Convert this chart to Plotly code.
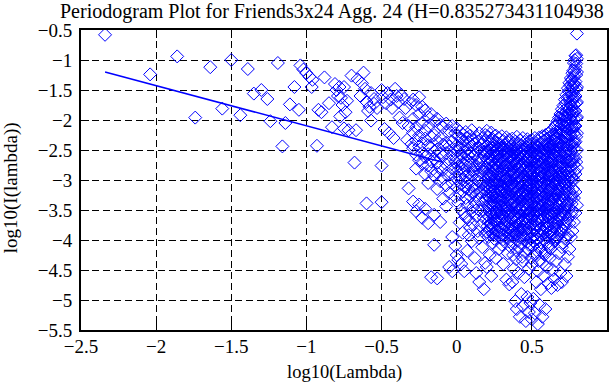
import plotly.graph_objects as go

# ---- data ----
title_text = "Periodogram Plot for Friends3x24 Agg. 24 (H=0.835273431104938"
x_title = "log10(Lambda)"
y_title = "log10(I(lambda))"

x_ticks = [-2.5, -2, -1.5, -1, -0.5, 0, 0.5, 1]
y_ticks = [-0.5, -1, -1.5, -2, -2.5, -3, -3.5, -4, -4.5, -5, -5.5]

# low-frequency (sparse) periodogram points
sparse_x = [-2.34, -2.04, -1.86, -1.74, -1.64, -1.56, -1.50, -1.44, -1.39, -1.35,
            -1.30, -1.26, -1.24, -1.19, -1.16, -1.14, -1.11, -1.08, -1.05, -1.04,
            -1.02, -1.00, -0.98, -0.96, -0.965, -0.93, -0.92, -0.90, -0.88, -0.85,
            -0.83, -0.81, -0.80, -0.79, -0.78, -0.775, -0.77, -0.76, -0.75, -0.75,
            -0.74, -0.73, -0.72, -0.70, -0.68, -0.67, -0.66, -0.64, -0.63, -0.62,
            -0.61, -0.60, -0.60, -0.59, -0.58, -0.57, -0.57, -0.55, -0.55, -0.53,
            -0.50, -0.50, -0.50, -0.49, -0.48, -0.47, -0.46, -0.45, -0.44, -0.43,
            -0.42, -0.41, -0.40, -0.39, -0.38, -0.37, -0.36, -0.35, -0.34, -0.33,
            -0.32, -0.32, -0.31, -0.30]
sparse_y = [-0.58, -1.24, -0.94, -1.96, -1.12, -1.81, -1.00, -1.92, -1.15, -1.56,
            -1.50, -1.65, -2.02, -1.05, -2.44, -2.05, -1.74, -1.45, -1.83, -1.09,
            -1.16, -1.22, -1.28, -1.33, -1.45, -2.43, -1.83, -1.87, -1.29, -1.72,
            -2.12, -1.40, -1.50, -1.60, -1.45, -1.94, -1.63, -1.75, -1.45, -2.14,
            -1.87, -1.68, -2.17, -1.26, -2.71, -2.17, -1.32, -1.60, -1.39, -1.21,
            -1.48, -1.70, -3.39, -1.85, -1.78, -2.01, -1.55, -1.65, -1.73, -1.80,
            -3.37, -2.76, -1.50, -1.62, -2.15, -1.72, -1.55, -2.22, -1.66, -1.80,
            -2.30, -1.48, -1.60, -1.70, -1.96, -1.58, -2.05, -1.65, -1.80, -2.33,
            -2.10, -3.14, -1.72, -2.40]

# dense high-frequency points, grouped by column of log10(lambda)
col_x = [-0.29, -0.27, -0.25, -0.23, -0.21, -0.19, -0.17, -0.15, -0.13, -0.11,
         -0.09, -0.07, -0.05, -0.03, -0.01,
         0.00, 0.01, 0.02, 0.03, 0.04, 0.05, 0.06, 0.07, 0.08, 0.09,
         0.10, 0.11, 0.12, 0.13, 0.14, 0.15, 0.16, 0.17, 0.18, 0.19,
         0.20, 0.21, 0.22, 0.23, 0.24, 0.25, 0.26, 0.27, 0.28, 0.29,
         0.30, 0.31, 0.32, 0.33, 0.34, 0.35, 0.36, 0.37, 0.38, 0.39,
         0.40, 0.41, 0.42, 0.43, 0.44, 0.45, 0.46, 0.47, 0.48, 0.49,
         0.50, 0.51, 0.52, 0.53, 0.54, 0.55, 0.56, 0.57, 0.58, 0.59,
         0.60, 0.61, 0.62, 0.63, 0.64, 0.65, 0.66, 0.67, 0.68, 0.69,
         0.70, 0.71, 0.72, 0.73, 0.74, 0.75, 0.76, 0.77, 0.78, 0.79, 0.80]
col_y = [
    [-1.66, -1.98, -2.21, -2.47, -3.36],
    [-1.75, -2.12, -2.34, -2.58, -2.81, -3.52],
    [-1.62, -1.90, -2.26, -2.44, -2.67, -3.41],
    [-1.78, -2.05, -2.39, -2.55, -2.73, -3.63],
    [-1.84, -2.18, -2.31, -2.62, -2.90, -3.48],
    [-1.95, -2.10, -2.42, -2.57, -2.76, -3.05, -3.72],
    [-1.90, -2.28, -2.46, -2.69, -2.85, -4.62],
    [-2.02, -2.25, -2.52, -2.64, -2.93, -3.58, -4.08],
    [-1.98, -2.35, -2.49, -2.71, -2.88, -3.15, -4.64],
    [-2.08, -2.30, -2.56, -2.78, -3.02, -3.70],
    [-2.12, -2.41, -2.60, -2.83, -2.97, -3.31],
    [-2.06, -2.38, -2.55, -2.74, -3.09, -3.44],
    [-2.18, -2.44, -2.66, -2.90, -3.22, -4.45],
    [-2.10, -2.36, -2.58, -2.81, -3.05, -3.95, -4.52],
    [-2.22, -2.49, -2.70, -2.95, -3.28, -4.10],
    [-2.14, -2.42, -2.63, -2.86, -3.12, -4.25],
    [-2.27, -2.51, -2.77, -3.01, -3.38, -4.33],
    [-2.19, -2.46, -2.69, -2.92, -3.24, -3.71],
    [-2.31, -2.58, -2.80, -3.07, -3.49, -4.40],
    [-2.24, -2.45, -2.72, -2.98, -3.19, -3.88],
    [-2.35, -2.62, -2.84, -3.11, -3.56, -4.52],
    [-2.20, -2.53, -2.75, -2.95, -3.30, -3.62],
    [-2.29, -2.48, -2.68, -3.04, -3.42, -4.18],
    [-2.38, -2.60, -2.89, -3.15, -3.66, -3.92],
    [-2.26, -2.55, -2.78, -3.00, -3.27, -3.80],
    [-2.17, -2.43, -2.71, -2.93, -3.21, -3.53, -4.02],
    [-2.33, -2.61, -2.87, -3.09, -3.45, -3.74],
    [-2.40, -2.57, -2.82, -3.18, -3.37, -4.30],
    [-2.28, -2.50, -2.76, -2.99, -3.25, -3.60, -4.55],
    [-2.36, -2.64, -2.91, -3.13, -3.48, -3.85],
    [-2.22, -2.47, -2.73, -3.03, -3.33, -3.97, -4.70],
    [-2.41, -2.66, -2.88, -3.20, -3.52, -3.76],
    [-2.30, -2.54, -2.80, -3.06, -3.40, -4.12],
    [-2.37, -2.59, -2.85, -3.14, -3.63, -4.82],
    [-2.25, -2.52, -2.79, -3.10, -3.35, -3.90, -4.38],
    [-2.18, -2.44, -2.65, -2.88, -3.10, -3.32, -3.58, -3.86, -4.45],
    [-2.28, -2.52, -2.73, -2.97, -3.19, -3.44, -3.70, -3.95],
    [-2.35, -2.48, -2.70, -2.92, -3.15, -3.39, -3.62, -3.81, -4.25],
    [-2.21, -2.57, -2.79, -3.03, -3.27, -3.50, -3.74, -4.60],
    [-2.32, -2.46, -2.68, -2.90, -3.12, -3.36, -3.57, -3.89, -4.05],
    [-2.40, -2.61, -2.84, -3.06, -3.29, -3.53, -3.78, -3.98],
    [-2.26, -2.50, -2.75, -2.99, -3.22, -3.46, -3.66, -3.92, -4.30],
    [-2.38, -2.55, -2.77, -3.01, -3.24, -3.41, -3.68, -3.84],
    [-2.30, -2.47, -2.71, -2.94, -3.17, -3.35, -3.60, -3.87, -4.15],
    [-2.43, -2.63, -2.86, -3.08, -3.31, -3.55, -3.79, -3.96],
    [-2.27, -2.49, -2.72, -2.96, -3.20, -3.43, -3.64, -3.91, -4.08],
    [-2.35, -2.58, -2.81, -3.04, -3.26, -3.49, -3.73, -3.99, -4.40],
    [-2.42, -2.60, -2.83, -3.07, -3.30, -3.52, -3.76, -3.93],
    [-2.29, -2.51, -2.74, -2.98, -3.21, -3.45, -3.69, -3.88, -4.66],
    [-2.37, -2.56, -2.78, -3.02, -3.25, -3.48, -3.71, -3.97, -4.22],
    [-2.33, -2.62, -2.85, -3.09, -3.34, -3.57, -3.80, -4.02, -4.74],
    [-2.45, -2.59, -2.76, -3.00, -3.23, -3.40, -3.65, -3.89, -4.12],
    [-2.31, -2.53, -2.80, -3.05, -3.28, -3.54, -3.77, -3.94, -4.70],
    [-2.40, -2.64, -2.87, -3.11, -3.36, -3.59, -3.82, -4.05, -4.48],
    [-2.36, -2.55, -2.75, -2.99, -3.22, -3.46, -3.70, -3.92, -5.02],
    [-2.28, -2.50, -2.73, -2.97, -3.19, -3.42, -3.66, -3.90, -4.18, -5.15],
    [-2.39, -2.61, -2.84, -3.07, -3.31, -3.55, -3.79, -4.01, -4.55],
    [-2.34, -2.57, -2.79, -3.03, -3.27, -3.50, -3.74, -3.96, -5.28],
    [-2.42, -2.63, -2.86, -3.10, -3.33, -3.58, -3.81, -4.06, -4.90],
    [-2.30, -2.52, -2.76, -3.00, -3.24, -3.47, -3.69, -3.93, -4.35, -5.10],
    [-2.37, -2.60, -2.82, -3.06, -3.29, -3.53, -3.78, -3.98, -4.62],
    [-2.44, -2.58, -2.80, -3.04, -3.26, -3.49, -3.72, -3.95, -5.35],
    [-2.32, -2.54, -2.77, -3.01, -3.25, -3.48, -3.71, -4.03, -4.95],
    [-2.36, -2.62, -2.85, -3.08, -3.32, -3.56, -3.80, -4.08, -4.48, -5.20],
    [-2.41, -2.59, -2.83, -3.05, -3.28, -3.51, -3.75, -3.97, -5.05],
    [-2.33, -2.55, -2.78, -3.02, -3.26, -3.50, -3.73, -3.96, -4.40, -5.32],
    [-2.39, -2.61, -2.84, -3.08, -3.31, -3.55, -3.79, -4.02, -4.98],
    [-2.30, -2.52, -2.75, -2.99, -3.22, -3.46, -3.69, -3.92, -4.25, -5.22],
    [-2.43, -2.58, -2.81, -3.05, -3.29, -3.52, -3.76, -3.99, -4.70],
    [-2.35, -2.56, -2.79, -3.03, -3.27, -3.51, -3.74, -3.98, -4.52, -5.40],
    [-2.29, -2.50, -2.73, -2.97, -3.21, -3.44, -3.68, -3.91, -4.15, -5.08],
    [-2.38, -2.62, -2.86, -3.09, -3.33, -3.57, -3.81, -4.04, -4.82],
    [-2.27, -2.49, -2.72, -2.96, -3.19, -3.43, -3.66, -3.90, -4.38, -5.28],
    [-2.34, -2.57, -2.80, -3.04, -3.28, -3.52, -3.75, -3.99, -4.60],
    [-2.25, -2.47, -2.70, -2.94, -3.18, -3.41, -3.65, -3.88, -4.20, -5.15],
    [-2.31, -2.54, -2.77, -3.01, -3.24, -3.48, -3.72, -3.96, -4.45],
    [-2.22, -2.45, -2.69, -2.92, -3.16, -3.40, -3.63, -3.87, -4.10, -4.72],
    [-2.28, -2.51, -2.74, -2.98, -3.22, -3.45, -3.69, -3.93, -4.30],
    [-2.18, -2.42, -2.66, -2.90, -3.13, -3.37, -3.61, -3.85, -4.08, -4.80],
    [-2.24, -2.48, -2.71, -2.95, -3.19, -3.43, -3.66, -3.90, -4.50],
    [-2.12, -2.36, -2.60, -2.84, -3.08, -3.32, -3.56, -3.80, -4.02, -4.65],
    [-2.08, -2.31, -2.55, -2.79, -3.03, -3.27, -3.51, -3.75, -3.98, -4.35],
    [-2.02, -2.27, -2.51, -2.76, -3.00, -3.24, -3.48, -3.72, -3.95, -4.75],
    [-1.96, -2.21, -2.46, -2.70, -2.94, -3.19, -3.43, -3.67, -3.91, -4.22],
    [-1.90, -2.15, -2.40, -2.65, -2.89, -3.14, -3.38, -3.62, -3.87, -4.55],
    [-1.82, -2.08, -2.34, -2.59, -2.84, -3.09, -3.34, -3.58, -3.83, -4.12, -4.70],
    [-1.76, -2.02, -2.28, -2.53, -2.78, -3.03, -3.28, -3.53, -3.78, -4.05],
    [-1.66, -1.94, -2.21, -2.47, -2.73, -2.98, -3.23, -3.48, -3.73, -3.98, -4.40],
    [-1.58, -1.87, -2.14, -2.41, -2.67, -2.93, -3.18, -3.43, -3.68, -3.94, -4.60],
    [-1.47, -1.78, -2.07, -2.35, -2.62, -2.88, -3.14, -3.39, -3.64, -3.90, -4.28],
    [-1.38, -1.62, -1.90, -2.15, -2.42, -2.68, -2.94, -3.20, -3.46, -3.72, -4.15],
    [-1.30, -1.52, -1.76, -2.00, -2.26, -2.51, -2.77, -3.03, -3.30, -3.58, -3.95],
    [-1.22, -1.45, -1.68, -1.92, -2.17, -2.43, -2.69, -2.96, -3.24, -3.52, -3.85],
    [-1.05, -1.28, -1.50, -1.74, -1.98, -2.22, -2.48, -2.74, -3.00, -3.30, -3.70],
    [-0.93, -1.12, -1.36, -1.60, -1.85, -2.10, -2.36, -2.62, -2.90, -3.20, -3.55],
    [-0.56, -0.98, -1.20, -1.45, -1.70, -1.95, -2.22, -2.50, -2.80, -3.42],
]

# in-between columns of the dense core and the right-hand spike
col2_x = [0.205, 0.215, 0.225, 0.235, 0.245, 0.255, 0.265, 0.275, 0.285, 0.295,
          0.305, 0.315, 0.325, 0.335, 0.345, 0.355, 0.365, 0.375, 0.385, 0.395,
          0.405, 0.415, 0.425, 0.435, 0.445, 0.455, 0.465, 0.475, 0.485, 0.495,
          0.505, 0.515, 0.525, 0.535, 0.545, 0.555, 0.565, 0.575, 0.585, 0.595,
          0.605, 0.615, 0.625, 0.635, 0.645, 0.655, 0.665, 0.675, 0.685, 0.695,
          0.705, 0.715, 0.725, 0.735, 0.745, 0.755, 0.765, 0.775, 0.785, 0.795]
col2_y = [
    [-2.56, -2.81, -3.05, -3.27, -3.49, -3.77],
    [-2.41, -2.63, -2.90, -3.13, -3.61, -3.83],
    [-2.58, -2.86, -3.08, -3.30, -3.55, -3.72],
    [-2.47, -2.69, -2.95, -3.18, -3.41, -3.80],
    [-2.53, -2.78, -3.01, -3.25, -3.63, -3.92],
    [-2.44, -2.70, -2.93, -3.15, -3.38, -3.69],
    [-2.60, -2.84, -3.06, -3.31, -3.55, -3.85],
    [-2.49, -2.66, -2.89, -3.12, -3.47, -3.73],
    [-2.55, -2.79, -3.02, -3.28, -3.52, -3.94],
    [-2.46, -2.72, -2.97, -3.19, -3.42, -3.67],
    [-2.59, -2.83, -3.10, -3.33, -3.58, -3.82],
    [-2.48, -2.69, -2.92, -3.16, -3.39, -3.62],
    [-2.54, -2.76, -2.99, -3.23, -3.46, -3.86],
    [-2.45, -2.67, -2.90, -3.14, -3.60, -3.79],
    [-2.61, -2.88, -3.11, -3.35, -3.53, -3.91],
    [-2.50, -2.71, -2.94, -3.17, -3.43, -3.68],
    [-2.57, -2.82, -3.05, -3.29, -3.51, -3.84],
    [-2.47, -2.68, -2.91, -3.15, -3.38, -3.63, -4.25],
    [-2.56, -2.79, -3.03, -3.26, -3.49, -3.88],
    [-2.49, -2.73, -2.96, -3.20, -3.44, -3.76, -4.32],
    [-2.58, -2.81, -3.05, -3.29, -3.53, -3.85],
    [-2.46, -2.70, -2.93, -3.17, -3.40, -3.64, -4.12],
    [-2.55, -2.77, -3.00, -3.24, -3.47, -3.87],
    [-2.50, -2.74, -2.98, -3.21, -3.45, -3.69, -4.28],
    [-2.59, -2.83, -3.06, -3.30, -3.54, -3.83],
    [-2.48, -2.71, -2.95, -3.19, -3.42, -3.66, -4.20],
    [-2.54, -2.78, -3.02, -3.25, -3.49, -3.89],
    [-2.47, -2.69, -2.93, -3.16, -3.40, -3.64, -4.15],
    [-2.57, -2.80, -3.04, -3.28, -3.52, -3.86],
    [-2.51, -2.75, -2.99, -3.22, -3.46, -3.70, -4.30],
    [-2.46, -2.68, -2.92, -3.15, -3.39, -3.63, -4.10],
    [-2.55, -2.79, -3.03, -3.27, -3.51, -3.84],
    [-2.49, -2.72, -2.96, -3.20, -3.44, -3.68, -4.22],
    [-2.58, -2.82, -3.06, -3.30, -3.54, -3.87],
    [-2.45, -2.69, -2.93, -3.17, -3.41, -3.65, -4.35],
    [-2.53, -2.77, -3.01, -3.25, -3.49, -3.81],
    [-2.47, -2.71, -2.95, -3.19, -3.43, -3.67, -4.18],
    [-2.56, -2.80, -3.04, -3.28, -3.52, -3.85],
    [-2.42, -2.66, -2.90, -3.14, -3.38, -3.62, -4.25],
    [-2.51, -2.75, -2.99, -3.23, -3.47, -3.79],
    [-2.40, -2.64, -2.88, -3.12, -3.36, -3.60, -4.05],
    [-2.48, -2.72, -2.96, -3.20, -3.44, -3.76],
    [-2.37, -2.61, -2.85, -3.09, -3.33, -3.57, -4.15],
    [-2.45, -2.69, -2.93, -3.17, -3.41, -3.72],
    [-2.33, -2.57, -2.81, -3.05, -3.29, -3.53, -3.95],
    [-2.26, -2.50, -2.74, -2.98, -3.22, -3.46, -3.70],
    [-2.20, -2.44, -2.68, -2.92, -3.16, -3.40, -3.82],
    [-2.14, -2.38, -2.62, -2.86, -3.10, -3.34, -3.60],
    [-2.05, -2.30, -2.55, -2.80, -3.05, -3.30, -3.77],
    [-1.98, -2.24, -2.49, -2.74, -2.99, -3.24, -3.52],
    [-1.92, -2.18, -2.44, -2.69, -2.95, -3.21, -3.66],
    [-1.84, -2.11, -2.37, -2.63, -2.89, -3.15, -3.45],
    [-1.72, -2.00, -2.28, -2.55, -2.82, -3.09, -3.58],
    [-1.63, -1.92, -2.20, -2.48, -2.76, -3.04, -3.35],
    [-1.52, -1.82, -2.11, -2.40, -2.69, -2.98, -3.50],
    [-1.42, -1.70, -1.98, -2.27, -2.56, -2.85, -3.25],
    [-1.33, -1.58, -1.85, -2.12, -2.39, -2.66, -2.95, -3.40],
    [-1.18, -1.40, -1.63, -1.87, -2.11, -2.36, -2.62, -3.15],
    [-1.00, -1.18, -1.40, -1.62, -1.86, -2.10, -2.38, -2.85],
    [-0.92, -1.06, -1.25, -1.48, -1.72, -1.97, -2.28, -2.70],
]

# least-squares fit line drawn over the low frequencies
fit_x = [-2.34, -0.10]
fit_y = [-1.20, -2.70]

# ---- build figure ----
pts_x = list(sparse_x)
pts_y = list(sparse_y)
for xs, yss in ((col_x, col_y), (col2_x, col2_y)):
    for cx, ys in zip(xs, yss):
        for yv in ys:
            pts_x.append(cx)
            pts_y.append(yv)

BLUE = "#0000ff"
FONT = "Liberation Serif"
TICK_SIZE = 19


def fmt(v):
    return f"{v:g}".replace("-", "\u2212")


fig = go.Figure()
fig.add_trace(go.Scatter(
    x=pts_x, y=pts_y, mode="markers",
    marker=dict(symbol="diamond-open", size=10, color=BLUE, line=dict(width=1, color=BLUE)),
    showlegend=False, hoverinfo="skip"))
fig.add_trace(go.Scatter(
    x=fit_x, y=fit_y, mode="lines",
    line=dict(color=BLUE, width=1.5),
    showlegend=False, hoverinfo="skip"))

axis_common = dict(
    showgrid=True, gridcolor="black", gridwidth=1, griddash="7px,4px",
    showline=True, linecolor="black", linewidth=2, mirror="ticks",
    ticks="inside", ticklen=8, tickwidth=1, tickcolor="black",
    zeroline=False, tickfont=dict(family=FONT, size=TICK_SIZE, color="black"),
)

fig.update_layout(
    width=611, height=385,
    margin=dict(l=81, r=2, t=30, b=55),
    paper_bgcolor="white", plot_bgcolor="white",
    font=dict(family=FONT, size=TICK_SIZE, color="black"),
    title=dict(text=title_text, x=60 / 611, xanchor="left", y=1 - 11 / 385, yanchor="middle",
               font=dict(family=FONT, size=20, color="black")),
    xaxis=dict(range=[-2.5, 1], tickvals=x_ticks, ticktext=[fmt(v) for v in x_ticks],
               ticklabelstandoff=-2, **axis_common),
    yaxis=dict(range=[-5.5, -0.5], tickvals=y_ticks, ticktext=[fmt(v) for v in y_ticks],
               ticklabelstandoff=3, **axis_common),
    annotations=[
        dict(text=x_title, xref="paper", yref="paper", x=0.5, y=-42 / 300,
             xanchor="center", yanchor="middle", showarrow=False,
             font=dict(family=FONT, size=18.5, color="black")),
        dict(text=y_title, xref="paper", yref="paper", x=-70 / 528, y=142 / 300,
             xanchor="center", yanchor="middle", textangle=-90, showarrow=False,
             font=dict(family=FONT, size=TICK_SIZE, color="black")),
    ],
)

fig.write_html("out.html", config={"displayModeBar": False},
               post_script="document.body.style.margin='0';")
